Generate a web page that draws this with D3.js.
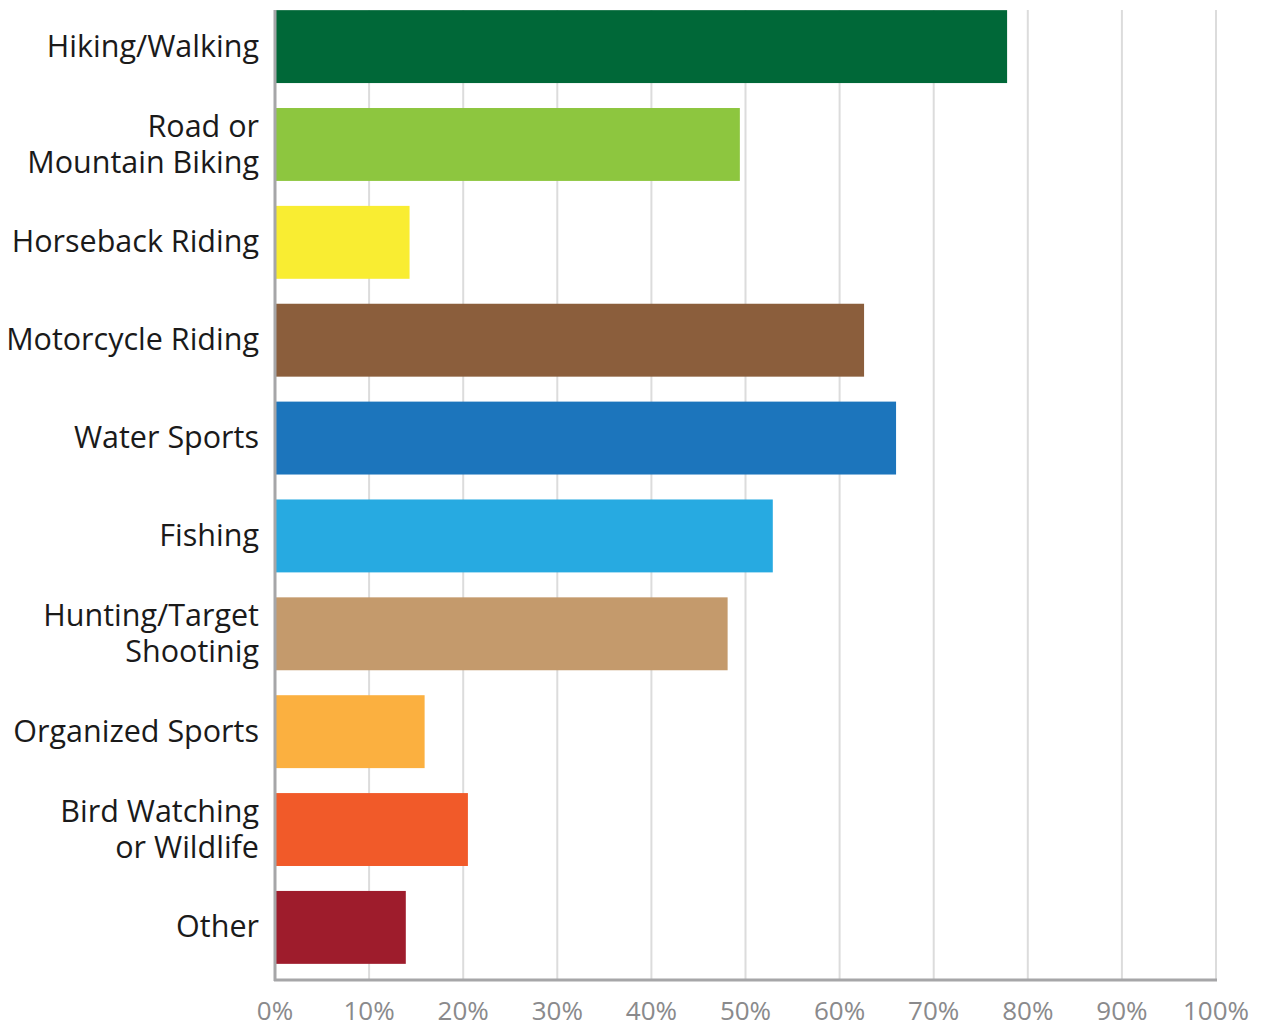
<!DOCTYPE html>
<html>
<head>
<meta charset="utf-8">
<script src="https://cdn.jsdelivr.net/npm/d3@7"></script>
<style>
  body { margin: 0; background: #fff; }
  svg { display: block; }
</style>
</head>
<body>
<svg id="chart"></svg>
<script>
// Data
const categories = [
  ["Hiking/Walking"],
  ["Road or", "Mountain Biking"],
  ["Horseback Riding"],
  ["Motorcycle Riding"],
  ["Water Sports"],
  ["Fishing"],
  ["Hunting/Target", "Shootinig"],
  ["Organized Sports"],
  ["Bird Watching", "or Wildlife"],
  ["Other"]
];
const values = [77.8, 49.4, 14.3, 62.6, 66.0, 52.9, 48.1, 15.9, 20.5, 13.9];
const colors = ["#006838", "#8dc63f", "#f9ed32", "#8b5e3c", "#1c75bc", "#27aae1",
                "#c49a6c", "#fbb040", "#f15a29", "#9e1c2c"];
const ticks = [0, 10, 20, 30, 40, 50, 60, 70, 80, 90, 100];

const W = 1262, H = 1026;
const margin = { top: 0, right: 46, bottom: 46, left: 275 };
const width = W - margin.left - margin.right;
const height = H - margin.top - margin.bottom;

const svg = d3.select("#chart").attr("width", W).attr("height", H);
const g = svg.append("g").attr("transform", "translate(" + margin.left + "," + margin.top + ")");

const x = d3.scaleLinear().domain([0, 100]).range([0, width]);
const y = d3.scaleBand()
  .domain(categories.map((d, i) => i))
  .range([-6, height])
  .paddingInner(0.255)
  .paddingOuter(0.165);

// gridlines
g.selectAll(".grid")
  .data(ticks.slice(1))
  .enter().append("line")
  .attr("class", "grid")
  .attr("x1", d => x(d)).attr("x2", d => x(d))
  .attr("y1", 10).attr("y2", height)
  .attr("stroke", "#dcdcdc")
  .attr("stroke-width", 2);

// bars
g.selectAll(".bar")
  .data(values)
  .enter().append("rect")
  .attr("class", "bar")
  .attr("x", 0)
  .attr("y", (d, i) => y(i))
  .attr("width", d => x(d))
  .attr("height", y.bandwidth())
  .attr("fill", (d, i) => colors[i]);

// axes lines
g.append("line")
  .attr("x1", 0).attr("x2", 0).attr("y1", 10).attr("y2", height + 1)
  .attr("stroke", "#a6a6a8").attr("stroke-width", 3);
g.append("line")
  .attr("x1", -1).attr("x2", x(100) + 1).attr("y1", height).attr("y2", height)
  .attr("stroke", "#a6a6a8").attr("stroke-width", 3);

// tick labels
g.selectAll(".tick-label")
  .data(ticks)
  .enter().append("text")
  .attr("class", "tick-label")
  .attr("x", d => x(d))
  .attr("y", height + 40)
  .attr("text-anchor", "middle")
  .attr("font-family", "'Open Sans', sans-serif")
  .attr("font-size", 26)
  .attr("fill", "#8a8a8c")
  .text(d => d + "%");

// category labels
const lineH = 36;
const labels = g.selectAll(".cat")
  .data(categories)
  .enter().append("text")
  .attr("class", "cat")
  .attr("text-anchor", "end")
  .attr("font-family", "'Open Sans', sans-serif")
  .attr("font-size", 30.5)
  .attr("fill", "#1a1a1a");

labels.each(function (lines, i) {
  const cy = y(i) + y.bandwidth() / 2;
  const t = d3.select(this);
  lines.forEach((ln, k) => {
    t.append("tspan")
      .attr("x", -16)
      .attr("y", cy + (k - (lines.length - 1) / 2) * lineH)
      .attr("dy", "0.33em")
      .text(ln);
  });
});
</script>
</body>
</html>
